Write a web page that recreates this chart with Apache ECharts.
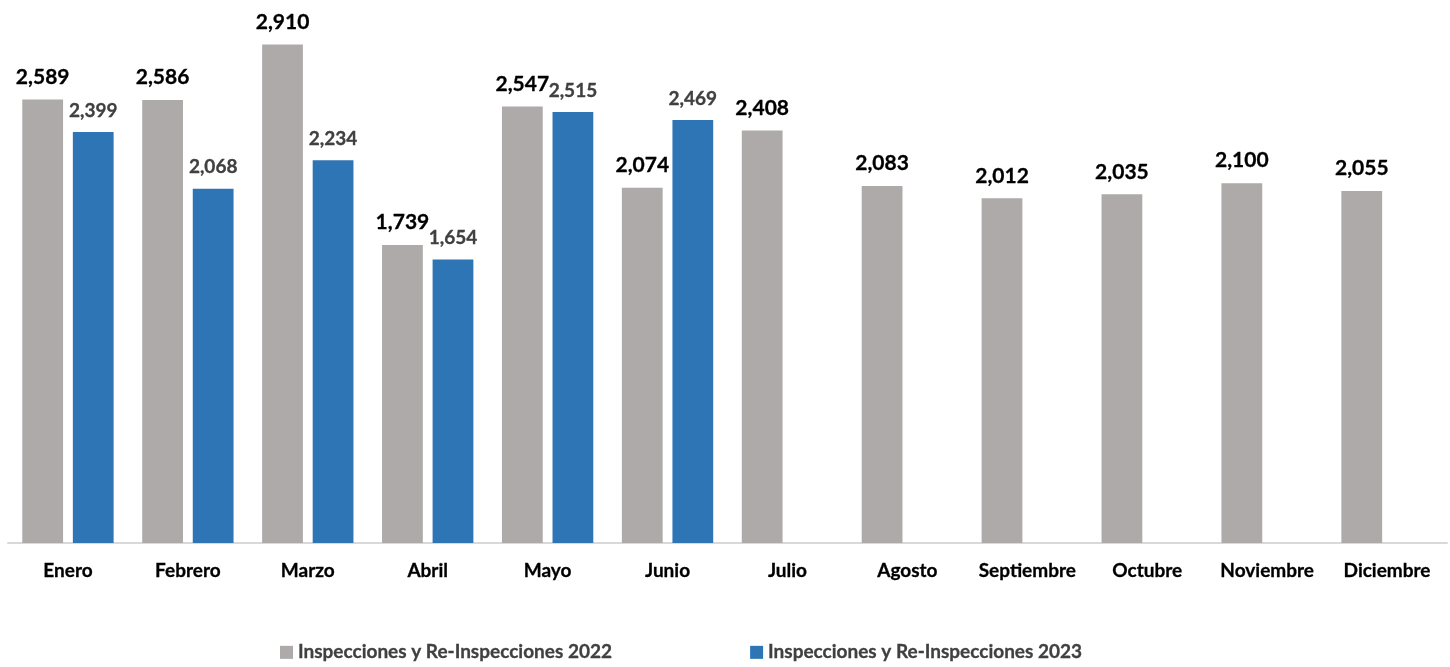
<!DOCTYPE html>
<html>
  <head>
    <meta charset="utf-8" />
    <title>Inspecciones</title>
    <style type="text/css">
      html,
      body {
        width: 100%;
        height: 100%;
        margin: 0px;
        background: #fff;
      }
      #chart {
        width: 1450px;
        height: 667px;
      }
    </style>
    <script type="text/javascript" src="https://cdn.jsdelivr.net/npm/echarts@6/dist/echarts.min.js"></script>
  </head>
  <body>
    <div id="chart"></div>
    <script>
      const months = ['Enero', 'Febrero', 'Marzo', 'Abril', 'Mayo', 'Junio', 'Julio', 'Agosto', 'Septiembre', 'Octubre', 'Noviembre', 'Diciembre'];
      const insp2022 = [2589, 2586, 2910, 1739, 2547, 2074, 2408, 2083, 2012, 2035, 2100, 2055];
      const insp2023 = [2399, 2068, 2234, 1654, 2515, 2469, null, null, null, null, null, null];
      const seriesNames = ['Inspecciones y Re-Inspecciones 2022', 'Inspecciones y Re-Inspecciones 2023'];

      const fontFamily = 'Lato, "Open Sans", sans-serif';
      const fmt = (p) => p.value == null ? '' : p.value.toLocaleString('en-US');

      const myChart = echarts.init(document.getElementById('chart'), null, { renderer: 'canvas' });

      const option = {
        animation: false,
        textStyle: { fontFamily: fontFamily },
        grid: { left: 8, right: 3, top: 29, bottom: 124, containLabel: false },
        legend: {
          bottom: 0,
          left: 275,
          itemGap: 138,
          itemWidth: 13,
          itemHeight: 13,
          icon: 'rect',
          textStyle: { fontSize: 19, fontWeight: 'bold', color: '#404040', fontFamily: fontFamily, textBorderColor: '#404040', textBorderWidth: 0.3 },
          data: seriesNames
        },
        xAxis: {
          type: 'category',
          data: months,
          axisLine: { lineStyle: { color: '#D9D9D9', width: 2 } },
          axisTick: { show: false },
          axisLabel: { fontSize: 19, fontWeight: 'bold', color: '#000', margin: 18, interval: 0, textBorderColor: '#000', textBorderWidth: 0.3 }
        },
        yAxis: {
          type: 'value',
          min: 0,
          max: 3000,
          show: false,
          splitLine: { show: false }
        },
        series: [
          {
            name: seriesNames[0],
            type: 'bar',
            data: insp2022,
            barWidth: '34%',
            barGap: '24%',
            itemStyle: { color: '#ADAAA9' },
            label: {
              show: true,
              position: 'top',
              distance: 12,
              formatter: fmt,
              fontSize: 21,
              fontWeight: 'bold',
              color: '#000',
              fontFamily: fontFamily,
              textBorderColor: '#000',
              textBorderWidth: 0.3
            }
          },
          {
            name: seriesNames[1],
            type: 'bar',
            data: insp2023,
            barWidth: '34%',
            itemStyle: { color: '#2E75B6' },
            label: {
              show: true,
              position: 'top',
              distance: 12,
              formatter: fmt,
              fontSize: 19,
              fontWeight: 'bold',
              color: '#404040',
              fontFamily: fontFamily,
              textBorderColor: '#404040',
              textBorderWidth: 0.3
            }
          }
        ]
      };

      myChart.setOption(option);
    </script>
  </body>
</html>
